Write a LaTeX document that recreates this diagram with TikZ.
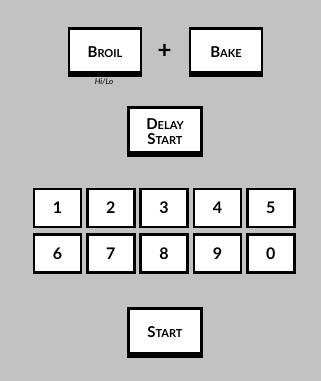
\documentclass[tikz,border=0pt]{standalone}
\usepackage{fontspec}
\setmainfont{Lato}
\usepackage{tikz}
\usetikzlibrary{arrows.meta}

\newcommand{\capkey}[2]{{\fontsize{15}{15}\selectfont #1}{\fontsize{11}{11}\selectfont #2}}

\tikzset{
  keybox/.style={draw, fill=white, line width=2.6pt, minimum width=72pt, minimum height=47pt, inner sep=0pt, align=center, font=\fontsize{15}{15.5}\selectfont\bfseries},
  numkey/.style={draw, fill=white, line width=2.8pt, minimum width=47pt, minimum height=38pt, inner sep=0pt, font=\fontsize{16}{16}\selectfont\bfseries}
}

\begin{document}
\begin{tikzpicture}[x=1pt,y=-1pt]
\fill[black!24] (0,0) rectangle (321,381);
\useasboundingbox (0,0) rectangle (321,381);
% upper keys
\node[keybox] (broil) at (105,52){\capkey{B}{ROIL}};
\node[keybox] (bake) at (226,52){\capkey{B}{AKE}};
\node[font=\fontsize{24}{24}\selectfont\bfseries] (plus) at (164.5,51){+};
\node[font=\fontsize{8}{8}\selectfont\itshape] (hilo) at (104,82){Hi/Lo};
\node[keybox, minimum width=73pt, minimum height=48pt] (delay) at (165,131.5){\capkey{D}{ELAY}\\\capkey{S}{TART}};
\node[keybox, minimum width=73pt, minimum height=48pt] (start) at (165,332.5){\capkey{S}{TART}};
\foreach \k in {broil,bake,delay,start}
  \fill (\k.south west) rectangle ([yshift=6pt]\k.south east);
% number pad
\foreach \d [count=\i from 0] in {1,2,3,4,5}
  \node[numkey] (n\d) at (57.5+53.3*\i,208){\d};
\foreach \d [count=\i from 0] in {6,7,8,9,0}
  \node[numkey] (n\d) at (57.5+53.3*\i,253.5){\d};
\end{tikzpicture}
\end{document}
